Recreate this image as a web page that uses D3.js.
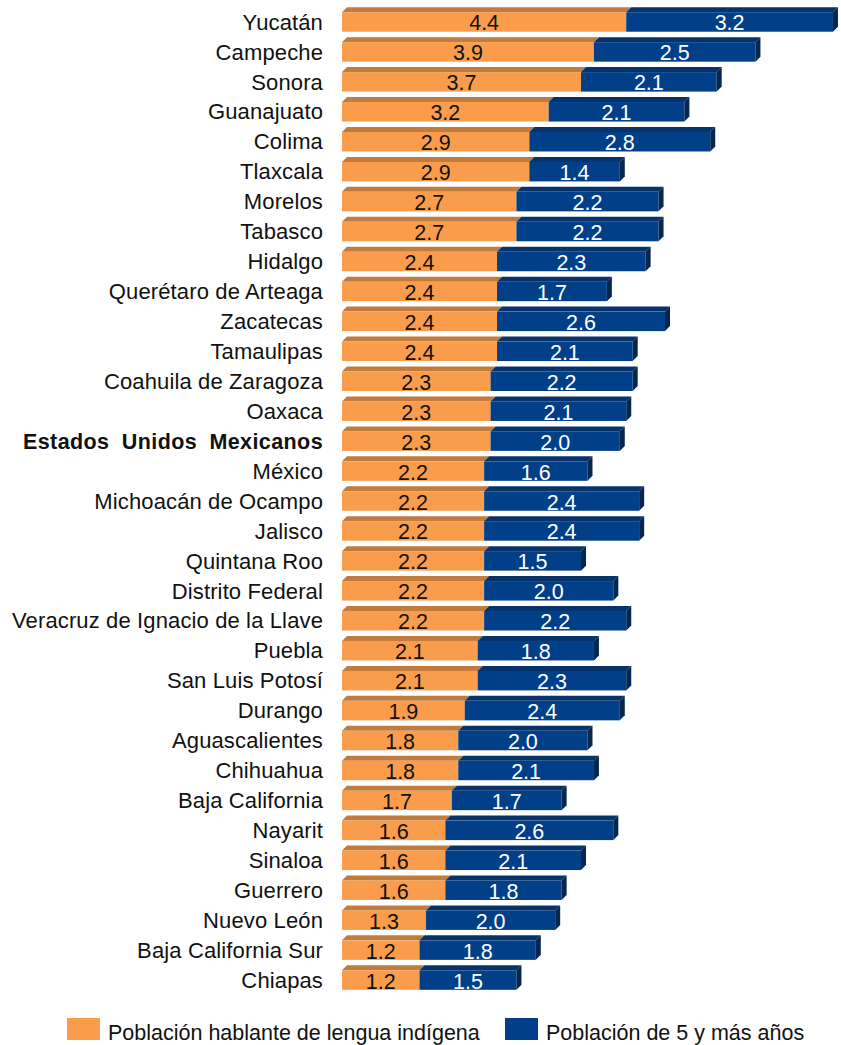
<!DOCTYPE html>
<html><head><meta charset="utf-8">
<script src="https://cdn.jsdelivr.net/npm/d3@7/dist/d3.min.js"></script>
<style>
html,body{margin:0;padding:0;background:#fff;}
svg{display:block;font-family:"Liberation Sans",Arial,sans-serif;}
</style></head>
<body><svg id="chart" width="841" height="1045"></svg>
<script>
const categories = ["Yucatán","Campeche","Sonora","Guanajuato","Colima","Tlaxcala","Morelos","Tabasco","Hidalgo","Querétaro de Arteaga","Zacatecas","Tamaulipas","Coahuila de Zaragoza","Oaxaca","Estados Unidos Mexicanos","México","Michoacán de Ocampo","Jalisco","Quintana Roo","Distrito Federal","Veracruz de Ignacio de la Llave","Puebla","San Luis Potosí","Durango","Aguascalientes","Chihuahua","Baja California","Nayarit","Sinaloa","Guerrero","Nuevo León","Baja California Sur","Chiapas"];
const indigena = [4.4,3.9,3.7,3.2,2.9,2.9,2.7,2.7,2.4,2.4,2.4,2.4,2.3,2.3,2.3,2.2,2.2,2.2,2.2,2.2,2.2,2.1,2.1,1.9,1.8,1.8,1.7,1.6,1.6,1.6,1.3,1.2,1.2];
const total5 = [3.2,2.5,2.1,2.1,2.8,1.4,2.2,2.2,2.3,1.7,2.6,2.1,2.2,2.1,2.0,1.6,2.4,2.4,1.5,2.0,2.2,1.8,2.3,2.4,2.0,2.1,1.7,2.6,2.1,1.8,2.0,1.8,1.5];
const seriesNames = ["Población hablante de lengua indígena","Población de 5 y más años"];
const boldCategory = "Estados Unidos Mexicanos";

const colors = {
  orange:{front:"#F99D4C", top:"#C17B3D", side:"#9C622F"},
  blue:{front:"#013F88", top:"#07336B", side:"#04264F"}
};

const svg = d3.select("#chart");
const x = d3.scaleLinear().domain([0, 7.6]).range([342, 342 + 7.6*64.6]);
const y = d3.scaleBand().domain(categories).range([7, 7 + 29.94*33]).paddingInner(0.335).paddingOuter(0.1675);
const dep = 5;
const bh = 19.5;

const rows = categories.map((c,i)=>({c, a: indigena[i], b: total5[i]}));

const g = svg.append("g");
rows.forEach(d=>{
  const yc = y(d.c) + y.bandwidth()/2;
  const y0 = yc - bh/2, y1 = yc + bh/2;
  const segs = [
    {x0:x(0), x1:x(d.a), col:colors.orange, v:d.a, tc:"#111"},
    {x0:x(d.a), x1:x(d.a+d.b), col:colors.blue, v:d.b, tc:"#fff"}
  ];
  segs.forEach((s,k)=>{
    g.append("path")
      .attr("d", `M${s.x0},${y0} L${s.x0+dep},${y0-dep} L${s.x1+dep},${y0-dep} L${s.x1},${y0} Z`)
      .attr("fill", s.col.top);
    g.append("rect").attr("x", s.x0).attr("y", y0).attr("width", s.x1-s.x0).attr("height", bh)
      .attr("fill", s.col.front);
    if(k===1){
      g.append("path")
        .attr("d", `M${s.x1},${y0} L${s.x1+dep},${y0-dep} L${s.x1+dep},${y1-dep} L${s.x1},${y1} Z`)
        .attr("fill", s.col.side);
    }
    g.append("text").attr("x",(s.x0+s.x1)/2).attr("y", yc+1).attr("dy","0.35em")
      .attr("text-anchor","middle").attr("font-size",21.5).attr("fill",s.tc)
      .text(d3.format(".1f")(s.v));
  });
  const isBold = d.c===boldCategory;
  const t = g.append("text").attr("x",323).attr("y", yc).attr("dy","0.35em")
    .attr("text-anchor","end").attr("font-size",isBold?21.5:22).attr("fill","#111")
    .attr("letter-spacing", isBold?"0.4px":"0.13px")
    .text(d.c);
  if(isBold){
    t.attr("font-weight","bold").attr("word-spacing","6px");
  }
});

const leg = svg.append("g");
const legItems = [
  {name:seriesNames[0], col:colors.orange.front, x:67},
  {name:seriesNames[1], col:colors.blue.front, x:505}
];
legItems.forEach(l=>{
  leg.append("rect").attr("x",l.x).attr("y",1018).attr("width",33).attr("height",22).attr("fill",l.col);
  leg.append("text").attr("x",l.x+41).attr("y",1040).attr("font-size",21.5).attr("fill","#111").text(l.name);
});
</script></body></html>
